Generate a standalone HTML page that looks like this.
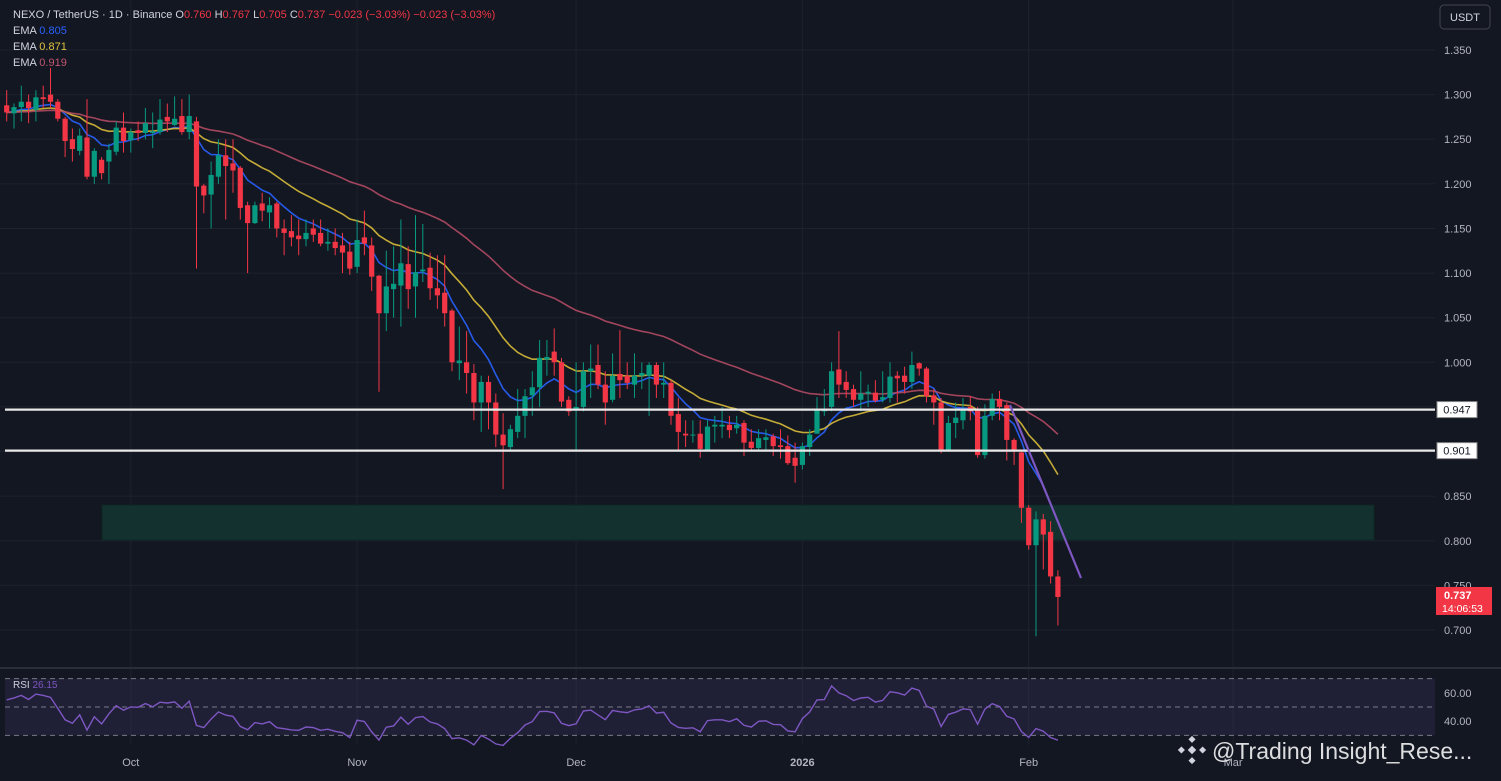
<!DOCTYPE html>
<html><head><meta charset="utf-8">
<style>
html,body{margin:0;padding:0;background:#131722;}
body{width:1501px;height:776px;overflow:hidden;font-family:"Liberation Sans",sans-serif;}
svg text{font-family:"Liberation Sans",sans-serif;}
</style></head>
<body>
<svg id="chart" width="1501" height="776" xmlns="http://www.w3.org/2000/svg">
<rect x="0" y="0" width="1501" height="776" fill="#131722"/>
<g id="grid"></g>
<rect x="102" y="505" width="1272" height="35" fill="#12312f" stroke="#0c2623" stroke-width="1"/>
<g id="emas"></g>
<g id="candles"></g>
<g id="levels"></g>
<line x1="1010" y1="405" x2="1081" y2="578" stroke="#7e57c2" stroke-width="2.2"/>
<g id="rsi"></g>
<g id="axis"></g>
<line x1="0" y1="668" x2="1501" y2="668" stroke="#2a2e39" stroke-width="2"/>
<g font-size="11">
<text x="13" y="18" fill="#d1d4dc">NEXO / TetherUS · 1D · Binance <tspan fill="#d1d4dc">O</tspan><tspan fill="#f23645">0.760</tspan> <tspan fill="#d1d4dc">H</tspan><tspan fill="#f23645">0.767</tspan> <tspan fill="#d1d4dc">L</tspan><tspan fill="#f23645">0.705</tspan> <tspan fill="#d1d4dc">C</tspan><tspan fill="#f23645">0.737 −0.023 (−3.03%) −0.023 (−3.03%)</tspan></text>
<text x="13" y="34" fill="#d1d4dc">EMA <tspan fill="#2962ff">0.805</tspan></text>
<text x="13" y="50" fill="#d1d4dc">EMA <tspan fill="#e0c341">0.871</tspan></text>
<text x="13" y="66" fill="#d1d4dc">EMA <tspan fill="#c2566f">0.919</tspan></text>
</g>
<g>
<rect x="1440" y="5" width="50" height="24" rx="4" fill="#131722" stroke="#434651"/>
<text x="1465" y="21" fill="#d1d4dc" font-size="11" text-anchor="middle">USDT</text>
</g>
<g>
<g transform="translate(1192,750) rotate(45)" fill="#d1d4dc">
<rect x="-3" y="-3" width="6" height="6"/><rect x="-10" y="-10" width="5" height="5"/><rect x="5" y="5" width="5" height="5"/><rect x="-10" y="5" width="5" height="5"/><rect x="5" y="-10" width="5" height="5"/>
</g>
<text x="1212" y="759" fill="#e8e8ea" font-size="23" opacity="0.95">@Trading Insight_Rese...</text>
</g>
</svg>
<script>
const opens=[1.288,1.279,1.286,1.292,1.283,1.297,1.300,1.292,1.273,1.250,1.237,1.252,1.208,1.227,1.225,1.236,1.263,1.249,1.260,1.257,1.257,1.258,1.275,1.266,1.276,1.258,1.270,1.198,1.188,1.208,1.232,1.223,1.218,1.176,1.156,1.178,1.168,1.178,1.150,1.147,1.142,1.138,1.150,1.145,1.133,1.135,1.131,1.124,1.107,1.140,1.131,1.097,1.055,1.082,1.086,1.110,1.085,1.102,1.106,1.083,1.078,1.058,0.999,1.000,0.988,0.955,0.978,0.955,0.919,0.905,0.922,0.940,0.963,0.972,1.003,1.012,1.000,0.958,0.947,0.950,0.990,0.997,0.975,0.958,0.987,0.985,0.975,0.985,0.985,0.997,0.975,0.977,0.942,0.920,0.918,0.920,0.902,0.928,0.928,0.930,0.926,0.932,0.911,0.904,0.913,0.917,0.907,0.906,0.893,0.885,0.905,0.920,0.945,0.950,0.992,0.978,0.970,0.958,0.965,0.966,0.958,0.960,0.985,0.985,0.978,0.999,0.993,0.963,0.955,0.902,0.932,0.935,0.950,0.947,0.896,0.940,0.959,0.952,0.913,0.899,0.837,0.795,0.824,0.810,0.760];
const highs=[1.305,1.290,1.310,1.300,1.305,1.310,1.330,1.295,1.275,1.262,1.262,1.295,1.240,1.230,1.245,1.270,1.280,1.262,1.270,1.285,1.280,1.295,1.290,1.298,1.295,1.300,1.275,1.200,1.225,1.250,1.250,1.250,1.220,1.180,1.180,1.190,1.185,1.180,1.160,1.165,1.160,1.160,1.160,1.160,1.150,1.150,1.145,1.135,1.160,1.170,1.140,1.098,1.125,1.130,1.160,1.130,1.165,1.155,1.123,1.120,1.120,1.060,1.040,1.035,0.998,0.985,0.985,0.965,0.943,0.930,0.970,0.970,0.990,1.025,1.025,1.038,1.005,0.962,1.000,1.000,1.020,1.020,0.990,1.010,1.036,1.000,1.010,1.000,1.000,1.000,1.000,0.980,0.960,0.935,0.935,0.935,0.935,0.940,0.950,0.940,0.940,0.935,0.925,0.925,0.925,0.920,0.925,0.918,0.910,0.910,0.925,0.961,0.970,1.000,1.035,0.990,0.975,0.990,0.975,0.980,0.990,1.000,0.990,0.995,1.012,1.000,0.995,0.970,0.960,0.940,0.955,0.960,0.962,0.950,0.953,0.965,0.968,0.955,0.915,0.900,0.840,0.833,0.830,0.822,0.767];
const lows=[1.270,1.262,1.270,1.268,1.270,1.285,1.285,1.270,1.230,1.225,1.232,1.205,1.200,1.205,1.200,1.232,1.235,1.235,1.248,1.250,1.240,1.255,1.258,1.265,1.255,1.250,1.105,1.167,1.150,1.200,1.160,1.190,1.160,1.100,1.155,1.158,1.150,1.140,1.120,1.130,1.120,1.130,1.135,1.130,1.125,1.120,1.100,1.098,1.100,1.120,1.080,0.967,1.035,1.050,1.040,1.060,1.050,1.090,1.070,1.060,1.040,0.990,0.980,0.965,0.935,0.922,0.925,0.905,0.858,0.900,0.915,0.915,0.940,0.950,0.985,0.985,0.950,0.940,0.900,0.945,0.960,0.970,0.930,0.955,0.960,0.970,0.960,0.970,0.940,0.960,0.960,0.930,0.900,0.905,0.910,0.893,0.900,0.910,0.915,0.915,0.920,0.895,0.900,0.900,0.900,0.895,0.892,0.885,0.865,0.880,0.895,0.920,0.940,0.945,0.960,0.960,0.950,0.945,0.950,0.955,0.955,0.955,0.955,0.965,0.970,0.985,0.955,0.930,0.898,0.900,0.915,0.925,0.935,0.893,0.892,0.935,0.935,0.890,0.885,0.820,0.790,0.693,0.768,0.752,0.705];
const closes=[1.280,1.286,1.292,1.285,1.297,1.295,1.292,1.273,1.248,1.239,1.254,1.208,1.237,1.212,1.238,1.263,1.248,1.258,1.257,1.268,1.259,1.272,1.270,1.273,1.258,1.276,1.197,1.187,1.210,1.232,1.220,1.215,1.173,1.156,1.176,1.170,1.176,1.150,1.145,1.140,1.138,1.145,1.143,1.133,1.135,1.128,1.123,1.105,1.137,1.133,1.096,1.055,1.085,1.088,1.111,1.082,1.101,1.104,1.083,1.075,1.055,1.000,1.002,0.988,0.955,0.978,0.955,0.919,0.907,0.925,0.940,0.962,0.972,1.005,1.006,1.000,0.956,0.945,0.950,0.990,0.993,0.975,0.955,0.985,0.980,0.977,0.985,0.988,0.997,0.975,0.977,0.940,0.922,0.918,0.919,0.903,0.928,0.930,0.930,0.924,0.930,0.910,0.904,0.915,0.916,0.906,0.905,0.887,0.884,0.906,0.919,0.947,0.948,0.990,0.975,0.969,0.958,0.965,0.967,0.957,0.961,0.984,0.982,0.978,0.997,0.993,0.962,0.955,0.902,0.932,0.938,0.947,0.945,0.896,0.940,0.959,0.950,0.913,0.902,0.837,0.795,0.824,0.807,0.760,0.737];
const priceTicks=[1.35,1.30,1.25,1.20,1.15,1.10,1.05,1.00,0.95,0.90,0.85,0.80,0.75,0.70];
const rsiTicks=[60,40];
const monthLabels=["Oct","Nov","Dec","2026","Feb","Mar"];
const monthIndex=[17,48,78,109,140,168];
const levelPrices=[0.947,0.901];
const emaLengths=[9,21,50];
const lastPrice=0.737;

const NS="http://www.w3.org/2000/svg";
const PLOT_R=1435;
function yP(p){return 50+(1.35-p)*892.3;}
function xI(i){return 6.7+i*7.3;}
function yR(v){return 707-(v-50)*1.42;}
function mk(tag,attrs,parent){const e=document.createElementNS(NS,tag);for(const k in attrs)e.setAttribute(k,attrs[k]);parent.appendChild(e);return e;}

const grid=document.getElementById('grid');
priceTicks.forEach(p=>{
  const l=mk('line',{x1:0,x2:PLOT_R,y1:yP(p),y2:yP(p),stroke:'#1e222d','stroke-width':1},grid);
  
  
});
monthIndex.forEach(i=>{
  const l=mk('line',{x1:xI(i),x2:xI(i),y1:0,y2:745,stroke:'#1e222d','stroke-width':1},grid);
  
  
});

const emaColors=['#2962ff','#d8bb3a','#b14a63'];
const emaG=document.getElementById('emas');
emaLengths.forEach((n,k)=>{
  const a=2/(n+1);let e=closes[0];const vals=[];
  closes.forEach(c=>{e=c*a+e*(1-a);vals.push(e);});
  const d=vals.map((v,i)=>(i?'L':'M')+xI(i).toFixed(1)+','+yP(v).toFixed(1)).join('');
  const p=mk('path',{d:d,fill:'none',stroke:emaColors[k],'stroke-width':1.6,opacity:0.9},emaG);
  
  
});

const cg=document.getElementById('candles');
closes.forEach((c,i)=>{
  const o=opens[i],col=c>=o?'#089981':'#f23645';
  const g=mk('g',{},cg);
  
  
  const x=xI(i);
  mk('line',{x1:x,x2:x,y1:yP(highs[i]),y2:yP(lows[i]),stroke:col,'stroke-width':1},g);
  const t=yP(Math.max(o,c)),b=yP(Math.min(o,c));
  mk('rect',{x:x-2.6,y:t,width:5.2,height:Math.max(1,b-t),fill:col},g);
});

const lg=document.getElementById('levels');
levelPrices.forEach(p=>{
  const y=yP(p);
  const l=mk('line',{x1:5,x2:PLOT_R,y1:y,y2:y,stroke:'#e8e8e8','stroke-width':2.2},lg);
  
  
  const r=mk('rect',{x:1437,y:y-8,width:40,height:16,fill:'#ffffff',stroke:'#888'},lg);
  
  
  const t=mk('text',{x:1457,y:y+4,'font-size':11,fill:'#131722','text-anchor':'middle'},lg);
  t.textContent=p.toFixed(3);
  
  
});

const ax=document.getElementById('axis');
priceTicks.forEach(p=>{
  if(levelPrices.some(l=>Math.abs(yP(l)-yP(p))<14))return;
  const t=mk('text',{x:1444,y:yP(p)+4,'font-size':11,fill:'#b2b5be'},ax);
  t.textContent=p.toFixed(3);
  
  
});
const ly=yP(lastPrice);
const lb=mk('rect',{x:1436,y:ly-10,width:56,height:28,fill:'#f23645'},ax);


const lt=mk('text',{x:1444,y:ly+2,'font-size':11,fill:'#ffffff','font-weight':'bold'},ax);
lt.textContent=lastPrice.toFixed(3);


const ct=mk('text',{x:1442,y:ly+15,'font-size':10.5,fill:'#ffffff'},ax);
ct.textContent='14:06:53';


monthLabels.forEach((m,k)=>{
  const t=mk('text',{x:xI(monthIndex[k]),y:766,'font-size':11,fill:'#b2b5be','text-anchor':'middle','font-weight':m==='2026'?'bold':'normal'},ax);
  t.textContent=m;
  
  
});

const rg=document.getElementById('rsi');
const band=mk('rect',{x:5,y:yR(70),width:PLOT_R-5,height:yR(30)-yR(70),fill:'#7e57c2','fill-opacity':0.12},rg);


[70,50,30].forEach(v=>{
  const l=mk('line',{x1:5,x2:PLOT_R,y1:yR(v),y2:yR(v),stroke:'#787b86','stroke-width':1,'stroke-dasharray':'5,4'},rg);
  
  
});
let ag=0,al=0;const rsi=[55];const N=14;
for(let i=1;i<closes.length;i++){
  const ch=closes[i]-closes[i-1];const g=Math.max(ch,0),lo=Math.max(-ch,0);
  if(i===1){ag=0.006;al=0.005;}
  ag=(ag*(N-1)+g)/N;al=(al*(N-1)+lo)/N;
  rsi.push(al===0?100:100-100/(1+ag/al));
}
const rd=rsi.map((v,i)=>(i?'L':'M')+xI(i).toFixed(1)+','+yR(v).toFixed(1)).join('');
const rp=mk('path',{d:rd,fill:'none',stroke:'#7e57c2','stroke-width':1.4},rg);


rsiTicks.forEach(v=>{
  const t=mk('text',{x:1444,y:yR(v)+4,'font-size':11,fill:'#b2b5be'},rg);
  t.textContent=v.toFixed(2);
  
  
});
const rt=mk('text',{x:13,y:688,'font-size':10,fill:'#d1d4dc'},rg);
rt.innerHTML='RSI <tspan fill="#7e57c2">26.15</tspan>';


</script>
</body></html>
